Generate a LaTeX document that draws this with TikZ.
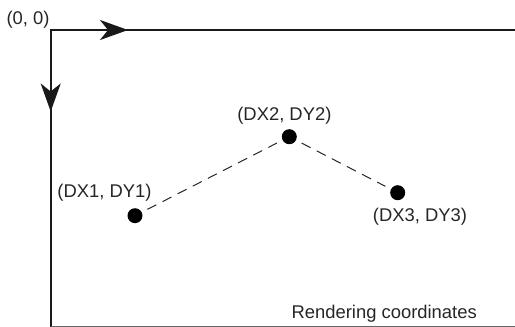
\documentclass[tikz,border=0pt]{standalone}
\usepackage{fontspec}
\setmainfont{Liberation Sans}
\usetikzlibrary{arrows.meta}
\begin{document}
\begin{tikzpicture}[x=0.5pt,y=-0.5pt,
  lbl/.style={inner sep=0pt,anchor=base,font=\fontsize{9.2}{11}\selectfont,text=black!85},
  axis/.style={line width=1pt,black!90},
  pt/.style={circle,fill=black,inner sep=0pt,minimum size=7.5pt},
  dsh/.style={dash pattern=on 5pt off 3.5pt,line width=0.5pt,black!85,shorten >=3pt,shorten <=3pt},
  tip/.style={-{Stealth[length=14pt,width=10pt,inset=4pt]}}]
\useasboundingbox (0,0) rectangle (515,327);
\coordinate (o) at (50.7,30);
\coordinate (tr) at (515,30);
\coordinate (bl) at (50.7,327);
\coordinate (br) at (515,326);
\coordinate (bl2) at (50.7,326);
\coordinate (ta) at (128,30);
\coordinate (la) at (50.7,111.5);
\draw[axis] (tr) -- (o) -- (bl);
\draw[axis,tip] (o) -- (ta);
\draw[axis,tip] (o) -- (la);
\draw[black!60,line width=0.5pt] (bl2) -- (br);
\node[lbl] (origin) at (28,24) {(0, 0)};
\node[pt] (p1) at (135,215.7) {};
\node[pt] (p2) at (289.3,136.7) {};
\node[pt] (p3) at (397.7,192.7) {};
\draw[dsh] (p1) -- (p2);
\draw[dsh] (p2) -- (p3);
\node[lbl] (l1) at (104.5,197) {(DX1, DY1)};
\node[lbl] (l2) at (284.4,120.7) {(DX2, DY2)};
\node[lbl] (l3) at (420,221.7) {(DX3, DY3)};
\node[lbl] (rc) at (384.2,318.3) {Rendering coordinates};
\end{tikzpicture}
\end{document}
